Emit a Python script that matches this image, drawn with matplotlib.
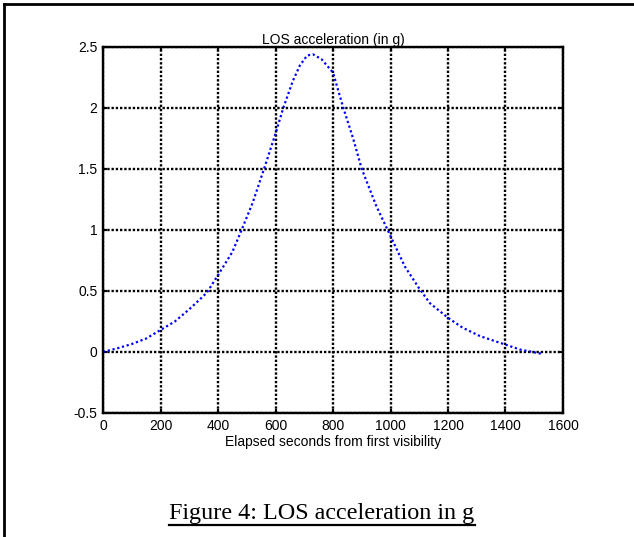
import matplotlib
matplotlib.use("Agg")
import matplotlib.pyplot as plt
from matplotlib.lines import Line2D

# values
elapsed_s = [0, 50, 100, 150, 200, 250, 300, 350, 365, 400, 450, 482, 520,
             560, 600, 627, 660, 685, 710, 730, 760, 800, 836, 870, 900, 950,
             990, 1050, 1100, 1137, 1200, 1250, 1311, 1400, 1450, 1526]
los_accel_g = [0.0, 0.03, 0.065, 0.11, 0.18, 0.25, 0.35, 0.46, 0.5, 0.63,
               0.82, 1.0, 1.22, 1.5, 1.79, 2.0, 2.22, 2.35, 2.43, 2.44, 2.40,
               2.29, 2.0, 1.75, 1.5, 1.2, 1.0, 0.7, 0.52, 0.40, 0.28, 0.2,
               0.13, 0.06, 0.02, -0.015]
x_ticks = [0, 200, 400, 600, 800, 1000, 1200, 1400, 1600]
y_ticks = [-0.5, 0, 0.5, 1, 1.5, 2, 2.5]
y_tick_labels = ["-0.5", "0", "0.5", "1", "1.5", "2", "2.5"]


def main():
    plt.rcParams["font.family"] = ["Liberation Sans", "DejaVu Sans"]
    fig = plt.figure(figsize=(6.34, 5.37), dpi=100)
    ax = fig.add_axes([0.1625, 0.231, 0.7255, 0.6815])

    ax.plot(elapsed_s, los_accel_g, color="#0000ff", linestyle=(0, (1, 1.2)),
            linewidth=1.6)

    ax.set_xlim(0, 1600)
    ax.set_ylim(-0.5, 2.5)
    ax.set_xticks(x_ticks)
    ax.set_yticks(y_ticks)
    ax.set_yticklabels(y_tick_labels)
    ax.tick_params(direction="in", length=3, width=1.5, labelsize=10,
                   top=True, right=True, pad=4)
    ax.grid(True, color="black", linestyle=(0, (1, 0.8)), linewidth=1.7)
    for sp in ax.spines.values():
        sp.set_linestyle((0, (1, 0.8)))
        sp.set_linewidth(1.7)

    ax.set_title("LOS acceleration (in g)", fontsize=10, pad=2.5)
    ax.set_xlabel("Elapsed seconds from first visibility", fontsize=10,
                  labelpad=2)

    # caption with underline
    cap = fig.text(322 / 634, 1 - 514 / 537, "Figure 4: LOS acceleration in g",
                   family=["Liberation Serif", "DejaVu Serif"], fontsize=17.4,
                   ha="center", va="center")
    fig.canvas.draw()
    bb = cap.get_window_extent().transformed(fig.transFigure.inverted())
    fig.add_artist(Line2D([bb.x0, bb.x1], [1 - 525 / 537] * 2, color="black",
                          linewidth=1.6, transform=fig.transFigure))

    # page frame: top and left edges
    fig.add_artist(Line2D([4 / 634, 1.0], [1 - 4 / 537] * 2, color="black",
                          linewidth=2, transform=fig.transFigure))
    fig.add_artist(Line2D([4 / 634] * 2, [0.0, 1 - 4 / 537], color="black",
                          linewidth=2, transform=fig.transFigure))

    fig.savefig("out.png", dpi=100)


if __name__ == "__main__":
    main()
